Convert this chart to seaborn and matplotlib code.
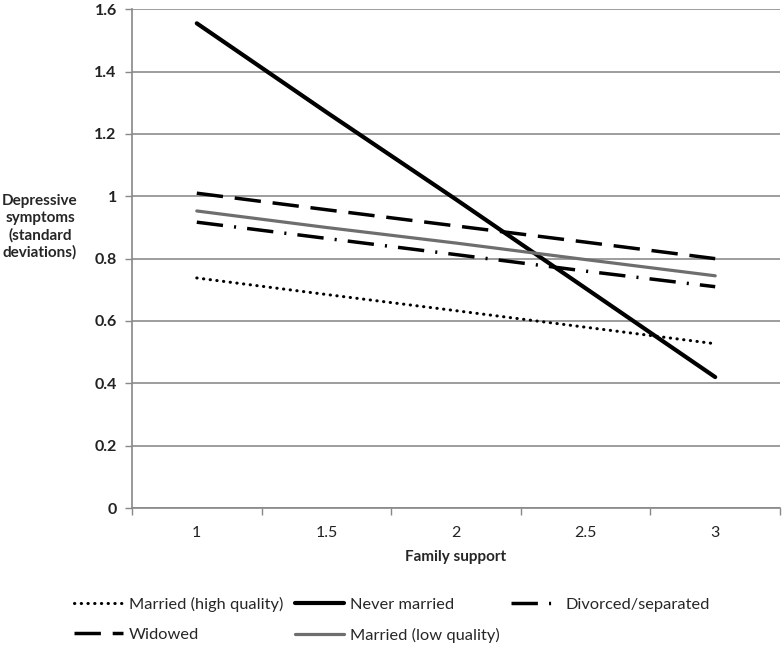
import matplotlib
matplotlib.use("Agg")
import matplotlib.pyplot as plt
from matplotlib.lines import Line2D
import seaborn as sns
import pandas as pd

support = ["1", "1.5", "2", "2.5", "3"]
married_high = [0.738, 0.685, 0.633, 0.580, 0.527]
never_married = [1.555, 1.270, 0.990, 0.705, 0.420]
divorced = [0.917, 0.865, 0.813, 0.760, 0.710]
widowed = [1.010, 0.957, 0.905, 0.853, 0.800]
married_low = [0.953, 0.900, 0.850, 0.797, 0.745]
y_ticks = [0, 0.2, 0.4, 0.6, 0.8, 1, 1.2, 1.4, 1.6]
y_tick_labels = ["0", "0.2", "0.4", "0.6", "0.8", "1", "1.2", "1.4", "1.6"]

sns.set_theme(style="white")
plt.rcParams['font.family'] = ['Lato', 'DejaVu Sans']

fig = plt.figure(figsize=(7.84, 6.49), dpi=100)
ax = fig.add_axes([132/784, 1-508/649, (780-132)/784, (508-9.3)/649])

idx = list(range(len(support)))
series = [
    ("Married (high quality)", married_high, dict(color="black", lw=2.2, ls=(0, (0.1, 2.1)), cap="round")),
    ("Never married", never_married, dict(color="black", lw=3.0, ls="-", cap=None)),
    ("Divorced/separated", divorced, dict(color="black", lw=2.5, ls=(0, (7.6, 3.2, 0.6, 3.2)), cap=None)),
    ("Widowed", widowed, dict(color="black", lw=2.5, ls=(0, (7.6, 3.4)), cap=None)),
    ("Married (low quality)", married_low, dict(color="#6e6e6e", lw=2.3, ls="-", cap=None)),
]

handles = {}
for name, vals, st in series:
    df = pd.DataFrame({"x": idx, "y": vals})
    sns.lineplot(data=df, x="x", y="y", ax=ax, color=st["color"], linewidth=st["lw"],
                 linestyle=st["ls"], legend=False, zorder=3)
    ln = ax.lines[-1]
    h = Line2D([], [], color=st["color"], lw=st["lw"], ls=st["ls"])
    if st["cap"]:
        ln.set_dash_capstyle(st["cap"])
        h.set_dash_capstyle(st["cap"])
    handles[name] = h

ax.set_xlim(-0.5, 4.5)
ax.set_ylim(0, 1.6)
ax.set_yticks(y_ticks)
ax.set_yticklabels(y_tick_labels, fontsize=11.5, fontweight="bold", color="#222222")
ax.set_xticks(idx)
ax.set_xticklabels(support, fontsize=11.5, color="#222222")
ax.set_xticks([i - 0.5 for i in range(len(support) + 1)], minor=True)
ax.tick_params(axis="x", which="major", length=0, pad=13)
ax.tick_params(axis="x", which="minor", length=5, width=1, color="#888888", direction="out", bottom=True)
ax.tick_params(axis="y", which="major", length=5, width=1, color="#888888", direction="out", left=True, pad=6)

ax.yaxis.grid(True, color="#8c8c8c", lw=1.2)
ax.set_axisbelow(True)
for s in ["top", "right"]:
    ax.spines[s].set_visible(False)
for s in ["left", "bottom"]:
    ax.spines[s].set_color("#888888")
    ax.spines[s].set_linewidth(1.2)

ax.set_xlabel("")
ax.set_ylabel("")
fig.text(456/784, 1-557/649, "Family support", ha="center", va="center", fontsize=11, fontweight="bold")
fig.text(40/784, 1-227/649, "Depressive\nsymptoms\n(standard\ndeviations)", ha="center", va="center",
         fontsize=11, fontweight="bold", linespacing=1.25)

order = ["Married (high quality)", "Widowed", "Never married", "Married (low quality)", "Divorced/separated"]
fig.legend([handles[n] for n in order], order, ncol=3, loc="upper left",
           bbox_to_anchor=(74/784, 1-597/649), frameon=False, fontsize=11.8,
           handlelength=3.0, handletextpad=0.35, columnspacing=0.7, labelspacing=0.95,
           borderaxespad=0, borderpad=0)

fig.savefig("out.png", dpi=100)
